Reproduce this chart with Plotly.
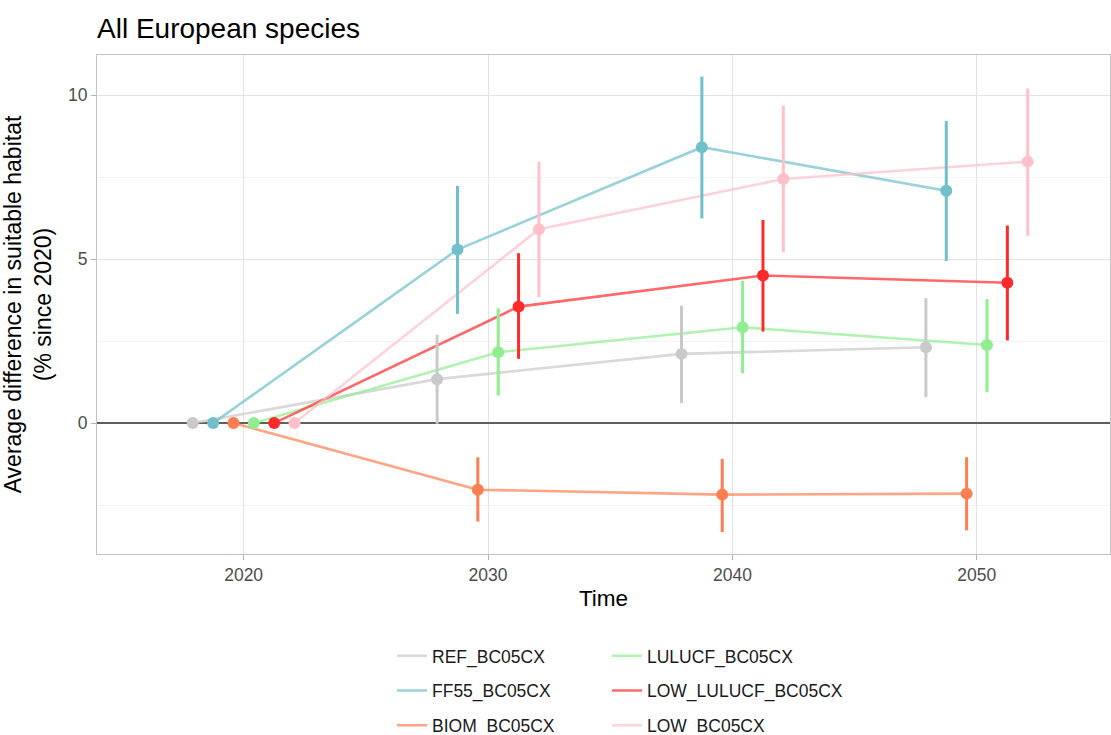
import plotly.graph_objects as go

# time points and scenarios
years = [2020, 2030, 2040, 2050]
scenarios = ["REF_BC05CX", "FF55_BC05CX", "BIOM_BC05CX",
             "LULUCF_BC05CX", "LOW_LULUCF_BC05CX", "LOW_BC05CX"]

# average difference in suitable habitat (% since 2020), with lower / upper bounds
ref_mean = [0, 1.34, 2.11, 2.31]
ref_lo = [0, -0.02, 0.61, 0.79]
ref_hi = [0, 2.69, 3.58, 3.81]

ff55_mean = [0, 5.29, 8.41, 7.08]
ff55_lo = [0, 3.33, 6.24, 4.94]
ff55_hi = [0, 7.23, 10.56, 9.21]

biom_mean = [0, -2.03, -2.18, -2.15]
biom_lo = [0, -3.00, -3.32, -3.27]
biom_hi = [0, -1.04, -1.09, -1.04]

lulucf_mean = [0, 2.16, 2.92, 2.38]
lulucf_lo = [0, 0.84, 1.52, 0.94]
lulucf_hi = [0, 3.50, 4.33, 3.78]

low_lulucf_mean = [0, 3.55, 4.50, 4.28]
low_lulucf_lo = [0, 1.96, 2.79, 2.52]
low_lulucf_hi = [0, 5.18, 6.19, 6.02]

low_mean = [0, 5.91, 7.44, 7.97]
low_lo = [0, 3.84, 5.21, 5.71]
low_hi = [0, 7.96, 9.67, 10.20]

means = [ref_mean, ff55_mean, biom_mean, lulucf_mean, low_lulucf_mean, low_mean]
lows = [ref_lo, ff55_lo, biom_lo, lulucf_lo, low_lulucf_lo, low_lo]
highs = [ref_hi, ff55_hi, biom_hi, lulucf_hi, low_lulucf_hi, low_hi]

colors = ["#c9c9c9", "#70bfca", "#ff7f50", "#90ee90", "#ff2a2a", "#ffc0cb"]
legend_ids = ["legend", "legend", "legend", "legend2", "legend2", "legend2"]

FONT = "Liberation Sans, Arial, sans-serif"
dodge = 5.0  # position_dodge width (years)
n = len(scenarios)

fig = go.Figure()

# dodged x positions per scenario
xs = []
for i in range(n):
    off = (i - (n - 1) / 2) * dodge / n
    xs.append([y + off for y in years])

# lines first (semi transparent)
for i, name in enumerate(scenarios):
    fig.add_trace(go.Scatter(
        x=xs[i], y=means[i], mode="lines", name=name,
        line=dict(color=colors[i], width=2.6), opacity=0.7,
        legend=legend_ids[i], legendgroup=name, showlegend=True,
        hoverinfo="skip",
    ))

# point ranges on top
for i, name in enumerate(scenarios):
    plus = [h - m for h, m in zip(highs[i], means[i])]
    minus = [m - l for m, l in zip(means[i], lows[i])]
    fig.add_trace(go.Scatter(
        x=xs[i], y=means[i], mode="markers", name=name,
        marker=dict(color=colors[i], size=12),
        error_y=dict(type="data", array=plus, arrayminus=minus,
                     color=colors[i], thickness=3, width=0),
        legendgroup=name, showlegend=False,
    ))

legend_style = dict(
    xanchor="left", y=-0.168, yanchor="top",
    orientation="v", tracegroupgap=9,
    font=dict(family=FONT, size=17.5, color="#1a1a1a"),
    bgcolor="rgba(0,0,0,0)",
)

fig.update_layout(
    width=1111, height=735,
    margin=dict(l=97, r=1, t=55, b=181, autoexpand=False),
    paper_bgcolor="white", plot_bgcolor="white",
    font=dict(family=FONT, size=16, color="#1a1a1a"),
    title=dict(text="All European species", x=97 / 1111, xanchor="left",
               y=0.962, yanchor="middle",
               font=dict(family=FONT, size=28, color="black")),
    xaxis=dict(
        range=[2014.0, 2055.45], tickvals=years, ticktext=[str(y) for y in years],
        showgrid=True, gridcolor="#e3e3e3", gridwidth=1,
        ticks="outside", ticklen=5, tickcolor="#b3b3b3", tickwidth=1,
        tickfont=dict(family=FONT, size=17.5, color="#4d4d4d"),
        showline=True, linecolor="#c4c4c4", linewidth=1, mirror=True,
        zeroline=False, automargin=True,
        title=dict(text="Time", font=dict(family=FONT, size=22.5, color="black"),
                   standoff=6),
    ),
    yaxis=dict(
        range=[-3.99, 11.22], tickvals=[0, 5, 10],
        showgrid=True, gridcolor="#e3e3e3", gridwidth=1,
        minor=dict(tickvals=[-2.5, 2.5, 7.5], showgrid=True,
                   gridcolor="#f4f4f4", gridwidth=0.6, ticks=""),
        ticks="outside", ticklen=5, tickcolor="#b3b3b3", tickwidth=1,
        tickfont=dict(family=FONT, size=17.5, color="#4d4d4d"),
        showline=True, linecolor="#c4c4c4", linewidth=1, mirror=True,
        zeroline=True, zerolinecolor="#5f5f5f", zerolinewidth=1.6,
        automargin=True,
        title=dict(text="Average difference in suitable habitat<br>(% since 2020)",
                   font=dict(family=FONT, size=23, color="black"), standoff=12),
    ),
    legend=dict(x=(392 - 97) / 1013, **legend_style),
    legend2=dict(x=(607 - 97) / 1013, **legend_style),
    showlegend=True,
)

# drop the default page margin so the figure sits at the window's corner
js_code = "document.body.style.margin = 0; document.body.style.padding = 0;"

fig.write_html("out.html", post_script=js_code,
               config={"displayModeBar": False})
